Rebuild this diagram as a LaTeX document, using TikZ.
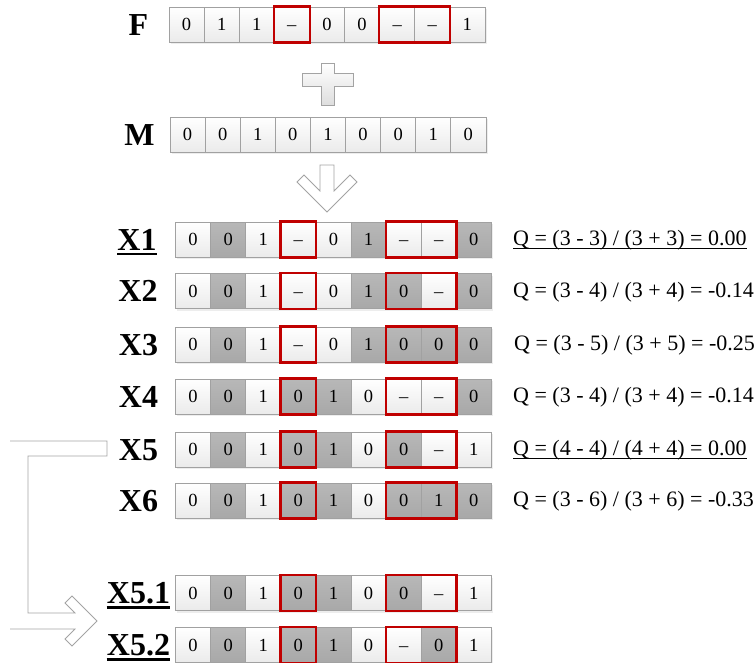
\documentclass[tikz,border=0pt]{standalone}
\usepackage{fontspec}
\setmainfont{Liberation Serif}
\definecolor{W1}{gray}{1}
\definecolor{W2}{gray}{0.92}
\definecolor{D1}{gray}{0.72}
\definecolor{D2}{gray}{0.66}
\definecolor{cellborder}{gray}{0.63}
\definecolor{redframecol}{RGB}{192,0,0}
\definecolor{shapeline}{gray}{0.64}
\tikzset{
  cell/.style={draw=cellborder, line width=0.7pt, minimum width=35.1pt, minimum height=35pt,
    inner sep=0pt, font=\fontsize{18.5}{20}\selectfont, text height=12.5pt, text depth=0pt},
  redframe/.style={draw=redframecol, line width=2.4pt},
  lab/.style={font=\fontsize{32}{34}\selectfont\bfseries, text height=21.2pt, text depth=0pt, inner sep=0pt},
  qtext/.style={font=\fontsize{22}{24}\selectfont, anchor=base west, inner sep=0pt},
  bigshape/.style={draw=shapeline, line width=0.8pt, line join=miter},
}
\newcommand\cellrow[4]{%
  \fill[black!7] ({#2+1.5},{#3-15.5}) rectangle ({#2+9*35.1+2},{#3+19.5});
  \foreach \v/\cc [count=\i] in {#4} {
    \node[cell, top color=\cc1, bottom color=\cc2] (#1-\i) at ({#2+(\i-0.5)*35.1},#3) {\v};
  }%
}
\newcommand\redb[2]{\draw[redframe] (#1.north west) rectangle (#2.south east);}
\begin{document}
\begin{tikzpicture}[x=1pt,y=-1pt]
\useasboundingbox (0,0) rectangle (755,662);
% rows
\cellrow{F}{169}{24.5}{0/W,1/W,1/W,–/W,0/W,0/W,–/W,–/W,1/W}
\cellrow{M}{170}{134.5}{0/W,0/W,1/W,0/W,1/W,0/W,0/W,1/W,0/W}
\cellrow{XA}{175.5}{239.5}{0/W,0/D,1/W,–/W,0/W,1/D,–/W,–/W,0/D}
\cellrow{XB}{175.5}{291}{0/W,0/D,1/W,–/W,0/W,1/D,0/D,–/W,0/D}
\cellrow{XC}{175.5}{344.5}{0/W,0/D,1/W,–/W,0/W,1/D,0/D,0/D,0/D}
\cellrow{XD}{175.5}{396.5}{0/W,0/D,1/W,0/D,1/D,0/W,–/W,–/W,0/D}
\cellrow{XE}{175.5}{449.5}{0/W,0/D,1/W,0/D,1/D,0/W,0/D,–/W,1/W}
\cellrow{XF}{175.5}{500.5}{0/W,0/D,1/W,0/D,1/D,0/W,0/D,1/D,0/D}
\cellrow{XG}{175.5}{593}{0/W,0/D,1/W,0/D,1/D,0/W,0/D,–/W,1/W}
\cellrow{XH}{175.5}{645}{0/W,0/D,1/W,0/D,1/D,0/W,–/W,0/D,1/W}
% red frames
\foreach \r in {F,XA,XB,XC,XD,XE,XF,XG,XH} {
  \redb{\r-4}{\r-4}
  \redb{\r-7}{\r-8}
}
% labels
\node[lab] (LF) at (138.5,24.5) {F};
\node[lab] (LM) at (139.5,134.5) {M};
\node[lab] (LXA) at (137,239.5) {X1};
\node[lab] (LXB) at (138,291) {X2};
\node[lab] (LXC) at (138.5,344.5) {X3};
\node[lab] (LXD) at (138.5,396.5) {X4};
\node[lab] (LXE) at (138.5,449.5) {X5};
\node[lab] (LXF) at (138.5,500.5) {X6};
\node[lab] (LXG) at (138.5,593) {X5.1};
\node[lab] (LXH) at (138.5,645) {X5.2};
\foreach \n in {LXA,LXG,LXH}
  \draw[line width=2.4pt] ([yshift=-4pt]\n.base west) -- ([yshift=-4pt]\n.base east);
% Q values
\node[qtext] (QA) at (513,245.5) {Q = (3 - 3) / (3 + 3) = 0.00};
\node[qtext] (QB) at (513,297) {Q = (3 - 4) / (3 + 4) = -0.14};
\node[qtext] (QC) at (514,350.5) {Q = (3 - 5) / (3 + 5) = -0.25};
\node[qtext] (QD) at (513,402.5) {Q = (3 - 4) / (3 + 4) = -0.14};
\node[qtext] (QE) at (513,455.5) {Q = (4 - 4) / (4 + 4) = 0.00};
\node[qtext] (QF) at (513,506.5) {Q = (3 - 6) / (3 + 6) = -0.33};
\foreach \n in {QA,QE}
  \draw[line width=0.9pt] ([yshift=-3.2pt]\n.base west) -- ([yshift=-3.2pt]\n.base east);
% plus sign
\draw[bigshape, top color=white, bottom color=black!13]
  (321,63) -- (334,63) -- (334,73) -- (353,73) -- (353,86) -- (334,86) -- (334,105)
  -- (321,105) -- (321,86) -- (302,86) -- (302,73) -- (321,73) -- cycle;
% down arrow
\draw[bigshape, fill=white]
  (320,165) -- (334,165) -- (334,191) -- (350,175) -- (357,182) -- (327,212)
  -- (297,182) -- (304,175) -- (320,191) -- cycle;
% bent arrow from X5 to X5.1 / X5.2
\draw[bigshape]
  (10,441) -- (107,441) -- (107,456) -- (28,456) -- (28,613) -- (75,613)
  -- (65,603) -- (72,596) -- (97,621) -- (72,646) -- (65,639) -- (75,629) -- (10,629);
\end{tikzpicture}
\end{document}
